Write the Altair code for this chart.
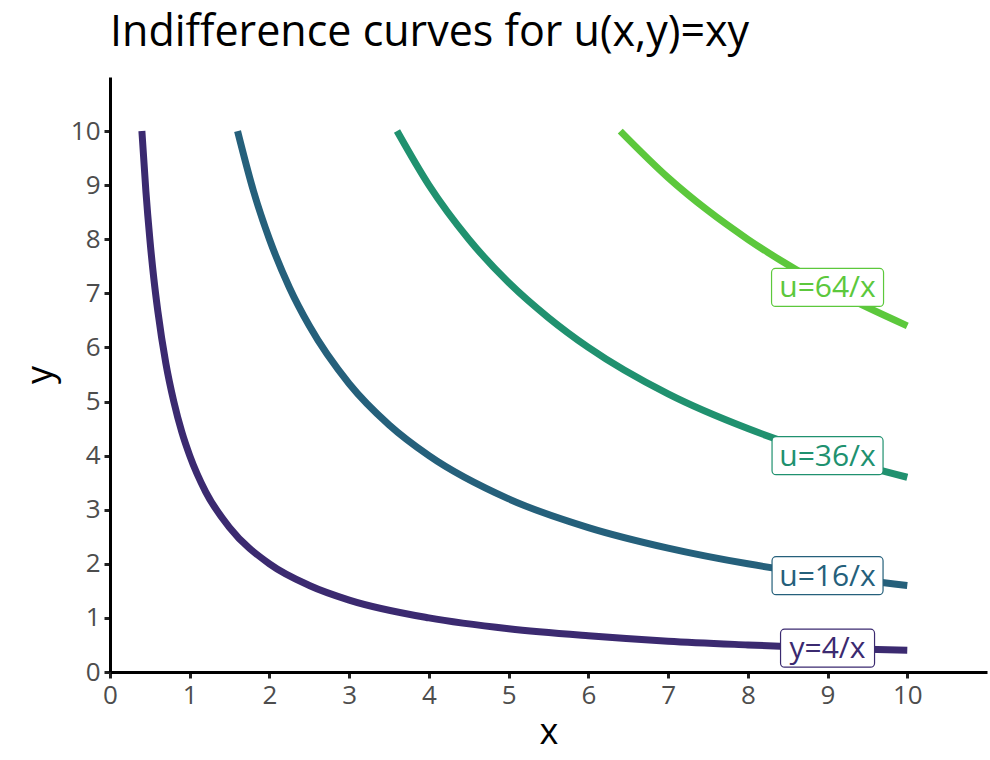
import altair as alt
import pandas as pd

# Indifference curves for u(x, y) = xy, one curve per utility level
levels = ["y=4/x", "u=16/x", "u=36/x", "u=64/x"]
colors = ["#3b2a70", "#25607b", "#20916f", "#5cc83c"]

x_u4 = [0.4, 0.45, 0.5, 0.55, 0.6, 0.7, 0.8, 0.9, 1.0, 1.2, 1.5, 2.0, 2.5, 3.0, 4.0, 5.0, 6.0, 7.0, 8.0, 9.0, 10.0]
y_u4 = [10.0, 8.89, 8.0, 7.27, 6.67, 5.71, 5.0, 4.44, 4.0, 3.33, 2.67, 2.0, 1.6, 1.33, 1.0, 0.8, 0.67, 0.57, 0.5, 0.44, 0.4]

x_u16 = [1.6, 1.8, 2.0, 2.25, 2.5, 3.0, 3.5, 4.0, 5.0, 6.0, 7.0, 8.0, 9.0, 10.0]
y_u16 = [10.0, 8.89, 8.0, 7.11, 6.4, 5.33, 4.57, 4.0, 3.2, 2.67, 2.29, 2.0, 1.78, 1.6]

x_u36 = [3.6, 4.0, 4.5, 5.0, 5.5, 6.0, 7.0, 8.0, 9.0, 10.0]
y_u36 = [10.0, 9.0, 8.0, 7.2, 6.55, 6.0, 5.14, 4.5, 4.0, 3.6]

x_u64 = [6.4, 7.0, 7.5, 8.0, 9.0, 10.0]
y_u64 = [10.0, 9.14, 8.53, 8.0, 7.11, 6.4]

# label anchors (at x = 9 on each curve)
label_x = [9, 9, 9, 9]
label_y = [0.44, 1.78, 4.0, 7.11]

FONT = "Open Sans"

rows = []
for name, xs, ys in zip(levels, [x_u4, x_u16, x_u36, x_u64], [y_u4, y_u16, y_u36, y_u64]):
    for i, (a, b) in enumerate(zip(xs, ys)):
        rows.append({"curve": name, "x": a, "y": b, "i": i})
curves = pd.DataFrame(rows)

labels = pd.DataFrame({"curve": levels, "x": label_x, "y": label_y})

x_scale = alt.Scale(domain=[0, 11], nice=False, zero=False)
y_scale = alt.Scale(domain=[0, 11], nice=False, zero=False)
color_scale = alt.Scale(domain=levels, range=colors)
ticks = list(range(0, 11))

lines = alt.Chart(curves).mark_line(
    strokeWidth=7, interpolate="monotone", strokeCap="butt"
).encode(
    x=alt.X("x:Q", scale=x_scale,
            axis=alt.Axis(values=ticks, format="d", title="x", titlePadding=7)),
    y=alt.Y("y:Q", scale=y_scale,
            axis=alt.Axis(values=ticks, format="d", title="y", titlePadding=11)),
    color=alt.Color("curve:N", scale=color_scale, legend=None),
    order="i:Q",
)

# white label boxes with a coloured outline
box_widths = {"y=4/x": 94, "u=16/x": 111, "u=36/x": 111, "u=64/x": 112}
boxes = []
for name, col in zip(levels, colors):
    boxes.append(
        alt.Chart(labels[labels.curve == name]).mark_rect(
            width=box_widths[name], height=38, cornerRadius=4,
            fill="white", stroke=col, strokeWidth=1.2,
        ).encode(x=alt.X("x:Q", scale=x_scale), y=alt.Y("y:Q", scale=y_scale))
    )

texts = alt.Chart(labels).mark_text(
    font=FONT, fontSize=30, align="center", baseline="middle", dy=1
).encode(
    x=alt.X("x:Q", scale=x_scale),
    y=alt.Y("y:Q", scale=y_scale),
    text="curve:N",
    color=alt.Color("curve:N", scale=color_scale, legend=None),
)

chart = alt.layer(lines, *boxes, texts).properties(
    width=877,
    height=595,
    padding={"left": 110, "top": 77, "right": 3, "bottom": 88},
    autosize=alt.AutoSizeParams(type="none"),
    title=alt.Title(
        "Indifference curves for u(x,y)=xy",
        anchor="start", frame="group", font=FONT, fontSize=43,
        fontWeight="normal", color="black", offset=22,
    ),
).configure_view(
    stroke=None
).configure_axis(
    grid=False,
    domainColor="black",
    domainWidth=3,
    tickColor="#222222",
    tickWidth=3,
    tickSize=6,
    labelFont=FONT,
    labelFontSize=26,
    labelColor="#4d4d4d",
    labelPadding=4,
    labelFlush=False,
    titleFont=FONT,
    titleFontSize=36,
    titleFontWeight="normal",
    titleColor="black",
)

chart.save("out.html", embed_options={"renderer": "svg", "actions": False})
